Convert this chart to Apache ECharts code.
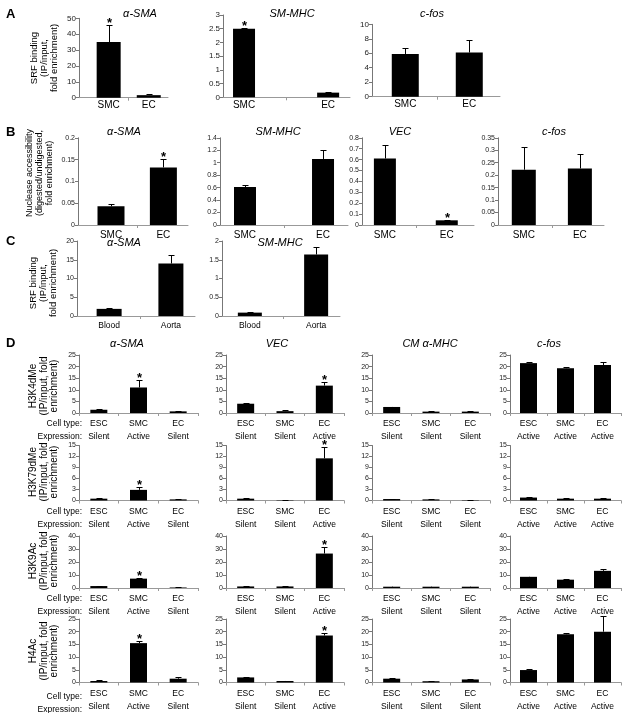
<!DOCTYPE html>
<html><head><meta charset="utf-8">
<script src="https://cdn.jsdelivr.net/npm/echarts@6/dist/echarts.min.js"></script>
<style>html,body{margin:0;padding:0;background:#fff}#c{width:622px;height:713px}</style>
</head><body><div id="c"></div>
<script>
// ---------- DATA ----------
const catsAB = ['SMC', 'EC'];
const catsC = ['Blood', 'Aorta'];
const catsD = ['ESC', 'SMC', 'EC'];
const exprSMA = ['Silent', 'Active', 'Silent'];
const exprVEC = ['Silent', 'Silent', 'Active'];
const exprCM = ['Silent', 'Silent', 'Silent'];
const exprFOS = ['Active', 'Active', 'Active'];

// Panel A: SRF binding
const aSMA = [35, 1.6], aSMAerr = [10.5, 1.0], aSMAsig = [1, 0];
const aMHC = [2.5, 0.17], aMHCerr = [0.03, 0.03], aMHCsig = [1, 0];
const aFOS = [5.9, 6.1], aFOSerr = [0.8, 1.8], aFOSsig = [0, 0];
// Panel B: nuclease accessibility
const bSMA = [0.043, 0.132], bSMAerr = [0.006, 0.019], bSMAsig = [0, 1];
const bMHC = [0.61, 1.06], bMHCerr = [0.03, 0.14], bMHCsig = [0, 0];
const bVEC = [0.61, 0.043], bVECerr = [0.12, 0.005], bVECsig = [0, 1];
const bFOS = [0.222, 0.227], bFOSerr = [0.09, 0.058], bFOSsig = [0, 0];
// Panel C: SRF binding in vivo
const cSMA = [1.9, 14.0], cSMAerr = [0.15, 2.4];
const cMHC = [0.09, 1.64], cMHCerr = [0.01, 0.2];
// Panel D rows
const k4SMA = [1.4, 11, 0.7], k4SMAerr = [0.3, 3.2, 0.1], k4SMAsig = [0, 1, 0];
const k4VEC = [4.0, 0.8, 11.8], k4VECerr = [0.1, 0.4, 1.5], k4VECsig = [0, 0, 1];
const k4CM = [2.6, 0.6, 0.6], k4CMerr = [0.1, 0.1, 0.1];
const k4FOS = [21.5, 19.3, 20.7], k4FOSerr = [0.4, 0.4, 1.2];

const k79SMA = [0.5, 2.9, 0.3], k79SMAerr = [0.2, 0.8, 0.1], k79SMAsig = [0, 1, 0];
const k79VEC = [0.5, 0.1, 11.5], k79VECerr = [0.05, 0.05, 3.0], k79VECsig = [0, 0, 1];
const k79CM = [0.4, 0.3, 0.1], k79CMerr = [0.05, 0.1, 0.02];
const k79FOS = [0.8, 0.5, 0.5], k79FOSerr = [0.05, 0.05, 0.05];

const k9SMA = [1.5, 7.2, 0.4], k9SMAerr = [0.2, 0.8, 0.1], k9SMAsig = [0, 1, 0];
const k9VEC = [1.2, 1.2, 26.5], k9VECerr = [0.1, 0.1, 5.0], k9VECsig = [0, 0, 1];
const k9CM = [1.0, 1.0, 1.0], k9CMerr = [0.1, 0.1, 0.1];
const k9FOS = [8.6, 6.4, 13.2], k9FOSerr = [0.2, 0.3, 1.2];

const h4SMA = [0.6, 15.5, 1.5], h4SMAerr = [0.3, 1.0, 0.8], h4SMAsig = [0, 1, 0];
const h4VEC = [2.0, 0.6, 18.5], h4VECerr = [0.3, 0.1, 0.8], h4VECsig = [0, 0, 1];
const h4CM = [1.5, 0.5, 1.2], h4CMerr = [0.1, 0.1, 0.1];
const h4FOS = [4.9, 19.0, 20.0], h4FOSerr = [0.3, 0.6, 6.0];

// ---------- BUILD ----------
const FF = '"Liberation Sans", Arial, sans-serif';
const option = {animation: false, backgroundColor: '#fff', textStyle: {fontFamily: FF},
  grid: [], xAxis: [], yAxis: [], series: [], graphic: []};

function errRender(params, api) {
  const i = api.value(0), v = api.value(1), e = api.value(2), s = api.value(3);
  const p0 = api.coord([i, v]), p1 = api.coord([i, v + e]);
  const x = Math.round(p0[0]) + 0.5, yt = Math.round(p1[1]) + 0.5;
  const ch = [];
  if (e > 0) {
    ch.push({type: 'line', shape: {x1: x, y1: p0[1], x2: x, y2: yt}, style: {stroke: '#000', lineWidth: 1}});
    ch.push({type: 'line', shape: {x1: x - 3, y1: yt, x2: x + 3, y2: yt}, style: {stroke: '#000', lineWidth: 1}});
  }
  if (s) ch.push({type: 'text', style: {text: '*', x: x, y: yt + 4, textAlign: 'center', textVerticalAlign: 'bottom',
    font: 'bold 13px ' + FF, fill: '#000'}});
  return {type: 'group', children: ch};
}

function addChart(c) {
  const gi = option.grid.length;
  option.grid.push({left: c.x0, top: c.top, width: c.x1 - c.x0, height: c.bottom - c.top});
  const lblStyle = {fontSize: c.catFont, color: '#000', margin: c.catMargin, lineHeight: c.lineH || 12};
  if (c.xmin !== undefined) {
    option.xAxis.push({gridIndex: gi, type: 'value', min: c.xmin, max: c.xmax, splitLine: {show: false},
      axisLine: {show: true, onZero: false, lineStyle: {color: '#999'}},
      axisTick: {show: true, customValues: [0.5], length: 3, lineStyle: {color: '#999'}},
      axisLabel: Object.assign({customValues: c.cats.map((_, i) => i), formatter: v => c.cats[Math.round(v)]}, lblStyle)});
  } else {
    option.xAxis.push({gridIndex: gi, type: 'category', data: c.cats, boundaryGap: true,
      axisLine: {show: true, onZero: false, lineStyle: {color: '#999'}},
      axisTick: {show: true, length: 3, interval: 0, lineStyle: {color: '#999'}},
      axisLabel: Object.assign({interval: 0, formatter: (v, idx) => c.expr ? v + '\n' + c.expr[idx] : v}, lblStyle)});
  }
  option.yAxis.push({gridIndex: gi, type: 'value', min: 0, max: c.ymax, interval: c.step, splitLine: {show: false},
    axisLine: {show: true, onZero: false, lineStyle: {color: '#777'}}, axisTick: {show: true, length: 3, lineStyle: {color: '#777'}},
    axisLabel: {fontSize: c.yFont, color: '#222', margin: 3}});
  option.series.push({type: 'bar', xAxisIndex: gi, yAxisIndex: gi, barWidth: c.bw, itemStyle: {color: '#000'},
    data: c.vals.map((v, i) => c.xmin !== undefined ? [i, v] : v)});
  const sig = c.sig || c.vals.map(() => 0);
  option.series.push({type: 'custom', xAxisIndex: gi, yAxisIndex: gi, renderItem: errRender, clip: false, z: 5,
    encode: {x: 0, y: 1}, data: c.vals.map((v, i) => [i, v, c.errs[i], sig[i]])});
  if (c.title) option.graphic.push({type: 'text', x: c.tx, y: c.ty, style: {text: c.title, textAlign: 'center',
    textVerticalAlign: 'middle', font: 'italic ' + (c.tFont || 11) + 'px ' + FF, fill: '#000'}});
}

function txt(x, y, s, font, align, rot, lh) {
  option.graphic.push({type: 'text', x: x, y: y, rotation: rot || 0,
    style: {text: s, textAlign: align || 'center', textVerticalAlign: 'middle', font: font, fill: '#000', lineHeight: lh || 9.5}});
}

// Panel A
const A = {catFont: 10, catMargin: 2, yFont: 8};
addChart(Object.assign({}, A, {x0: 79, x1: 168, top: 18.3, bottom: 97.7, ymax: 50, step: 10, xmin: -0.74, xmax: 1.48, bw: 24,
  cats: catsAB, vals: aSMA, errs: aSMAerr, sig: aSMAsig, title: 'α-SMA', tx: 140, ty: 14}));
addChart(Object.assign({}, A, {x0: 223, x1: 350, top: 15, bottom: 97.3, ymax: 3, step: 0.5, xmin: -0.25, xmax: 1.26, bw: 22,
  cats: catsAB, vals: aMHC, errs: aMHCerr, sig: aMHCsig, title: 'SM-MHC', tx: 292, ty: 14}));
addChart(Object.assign({}, A, {x0: 372, x1: 500, top: 24.3, bottom: 96.7, ymax: 10, step: 2, xmin: -0.52, xmax: 1.48, bw: 27,
  cats: catsAB, vals: aFOS, errs: aFOSerr, sig: aFOSsig, title: 'c-fos', tx: 432, ty: 14}));

// Panel B
const B = {top: 137.8, bottom: 225, catFont: 10, catMargin: 4, yFont: 7};
addChart(Object.assign({}, B, {x0: 78, x1: 188, ymax: 0.2, step: 0.05, xmin: -0.63, xmax: 1.47, bw: 27,
  cats: catsAB, vals: bSMA, errs: bSMAerr, sig: bSMAsig, title: 'α-SMA', tx: 124, ty: 132}));
addChart(Object.assign({}, B, {x0: 220, x1: 348, ymax: 1.4, step: 0.2, xmin: -0.32, xmax: 1.32, bw: 22,
  cats: catsAB, vals: bMHC, errs: bMHCerr, sig: bMHCsig, title: 'SM-MHC', tx: 278, ty: 132}));
addChart(Object.assign({}, B, {x0: 362, x1: 474, ymax: 0.8, step: 0.1, xmin: -0.37, xmax: 1.44, bw: 22,
  cats: catsAB, vals: bVEC, errs: bVECerr, sig: bVECsig, title: 'VEC', tx: 400, ty: 132}));
addChart(Object.assign({}, B, {x0: 498, x1: 604, ymax: 0.35, step: 0.05, xmin: -0.46, xmax: 1.43, bw: 24,
  cats: catsAB, vals: bFOS, errs: bFOSerr, sig: bFOSsig, title: 'c-fos', tx: 554, ty: 132}));

// Panel C
const C = {top: 241, bottom: 316, catFont: 8.5, catMargin: 4, yFont: 7};
addChart(Object.assign({}, C, {x0: 77, x1: 195, ymax: 20, step: 5, xmin: -0.52, xmax: 1.39, bw: 25,
  cats: catsC, vals: cSMA, errs: cSMAerr, title: 'α-SMA', tx: 124, ty: 243}));
addChart(Object.assign({}, C, {x0: 222, x1: 340, ymax: 2, step: 0.5, xmin: -0.42, xmax: 1.36, bw: 24,
  cats: catsC, vals: cMHC, errs: cMHCerr, title: 'SM-MHC', tx: 280, ty: 243}));

// Panel D
const colsD = [[79, 198], [226, 344], [372, 490], [510, 621]];
const exprD = [exprSMA, exprVEC, exprCM, exprFOS];
const rowsD = [
  {top: 355, bottom: 413, ymax: 25, step: 5, vals: [k4SMA, k4VEC, k4CM, k4FOS], errs: [k4SMAerr, k4VECerr, k4CMerr, k4FOSerr], sig: [k4SMAsig, k4VECsig, null, null]},
  {top: 445.5, bottom: 500.5, ymax: 15, step: 3, vals: [k79SMA, k79VEC, k79CM, k79FOS], errs: [k79SMAerr, k79VECerr, k79CMerr, k79FOSerr], sig: [k79SMAsig, k79VECsig, null, null]},
  {top: 536, bottom: 588, ymax: 40, step: 10, vals: [k9SMA, k9VEC, k9CM, k9FOS], errs: [k9SMAerr, k9VECerr, k9CMerr, k9FOSerr], sig: [k9SMAsig, k9VECsig, null, null]},
  {top: 619, bottom: 686, ymax: 25, step: 5, vals: [h4SMA, h4VEC, h4CM, h4FOS], errs: [h4SMAerr, h4VECerr, h4CMerr, h4FOSerr], sig: [h4SMAsig, h4VECsig, null, null]}
];
const titlesD = ['α-SMA', 'VEC', 'CM α-MHC', 'c-fos'];
const titleXD = [127, 277, 430, 549];
const rowLabels = ['H3K4dMe\n(IP/input, fold\nenrichment)', 'H3K79dMe\n(IP/input, fold\nenrichment)',
  'H3K9Ac\n(IP/input, fold\nenrichment)', 'H4Ac\n(IP/input, fold\nenrichment)'];
const rowLabelY = [386, 472, 561, 651];
rowsD.forEach((r, ri) => {
  colsD.forEach((cx, ci) => {
    addChart({x0: cx[0], x1: cx[1], top: r.top, bottom: r.bottom, ymax: r.ymax, step: r.step, bw: 17,
      cats: catsD, expr: exprD[ci], vals: r.vals[ci], errs: r.errs[ci], sig: r.sig[ci] || undefined,
      catFont: 8.5, catMargin: 4.5, lineH: 13, yFont: 7,
      title: ri === 0 ? titlesD[ci] : null, tx: titleXD[ci], ty: 344});
  });
  txt(82, r.bottom + 11, 'Cell type:', '8.5px ' + FF, 'right');
  txt(82, r.bottom + 24, 'Expression:', '8.5px ' + FF, 'right');
  txt(44, rowLabelY[ri], rowLabels[ri], '10px ' + FF, 'center', Math.PI / 2, 10.5);
});

// Panel letters and side labels
txt(6, 14, 'A', 'bold 13px ' + FF, 'left');
txt(6, 132, 'B', 'bold 13px ' + FF, 'left');
txt(6, 241, 'C', 'bold 13px ' + FF, 'left');
txt(6, 343, 'D', 'bold 13px ' + FF, 'left');
txt(44, 58, 'SRF binding\n(IP/input,\nfold enrichment)', '9.5px ' + FF, 'center', Math.PI / 2, 10);
txt(40, 173, 'Nuclease accessibility\n(digested/undigested,\nfold enrichment)', '9px ' + FF, 'center', Math.PI / 2, 10);
txt(43, 283, 'SRF binding\n(IP/input,\nfold enrichment)', '9.5px ' + FF, 'center', Math.PI / 2, 10);

const chart = echarts.init(document.getElementById('c'), null, {renderer: 'canvas'});
chart.setOption(option);
</script></body></html>
